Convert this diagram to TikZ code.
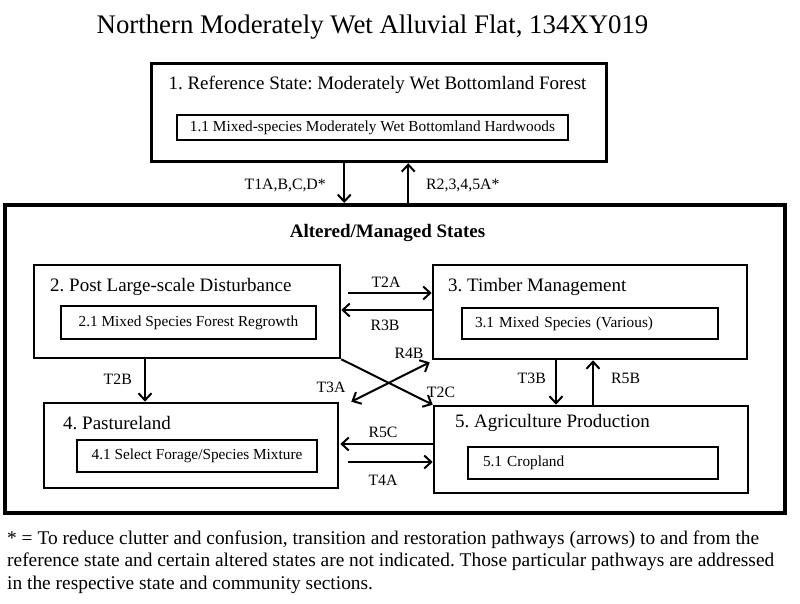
\documentclass[tikz,border=0pt]{standalone}
\usepackage{fontspec}
\setmainfont{Liberation Serif}
\usetikzlibrary{arrows.meta}
\frenchspacing
\tikzset{
  statebox/.style={draw, line width=2.6pt, inner sep=0pt},
  innerbox/.style={draw, line width=2pt, inner sep=0pt, font=\fontsize{15.3}{18}\selectfont},
  sttitle/.style={inner sep=0pt, font=\fontsize{19}{22}\selectfont},
  lbl/.style={inner sep=0pt, font=\fontsize{15.8}{18}\selectfont},
  arr/.style={line width=2pt, -{Straight Barb[length=7pt,width=13pt,line width=2pt]}},
  darr/.style={line width=2pt, {Straight Barb[length=7pt,width=13pt,line width=2pt]}-{Straight Barb[length=7pt,width=13pt,line width=2pt]}}
}
\begin{document}
\begin{tikzpicture}[x=1pt,y=-1pt]
\useasboundingbox[fill=white] (0,0) rectangle (800,604);

% title
\node[inner sep=0pt, font=\fontsize{26.8}{30}\selectfont] (title) at (372.5,27) {Northern Moderately Wet Alluvial Flat, 134XY019};

% reference state
\node[draw, line width=3pt, inner sep=0pt, minimum width=455.5pt, minimum height=98.4pt] (b1) at (378.75,112.5) {};
\node[sttitle] (b1t) at (377.5,85) {1. Reference State: Moderately Wet Bottomland Forest};
\node[innerbox, minimum width=391pt, minimum height=25pt] (b11) at (372.5,127.5) {1.1 Mixed-species Moderately Wet Bottomland Hardwoods};

% altered/managed big box
\node[draw, line width=4pt, inner sep=0pt, minimum width=780pt, minimum height=307.5pt] (big) at (395,358.75) {};
\node[inner sep=0pt, font=\fontsize{19}{22}\selectfont\bfseries] (bigt) at (387.5,233) {Altered/Managed States};

% state boxes
\node[statebox, minimum width=306pt, minimum height=93pt] (b2) at (187,311.5) {};
\node[statebox, minimum width=314pt, minimum height=94pt] (b3) at (590,312) {};
\node[statebox, minimum width=294pt, minimum height=85pt] (b4) at (191,445.5) {};
\node[statebox, minimum width=314pt, minimum height=87pt] (b5) at (591,449.5) {};

\node[sttitle, anchor=west] (b2t) at (50,287) {2. Post Large-scale Disturbance};
\node[sttitle, anchor=west] (b3t) at (448,287) {3. Timber Management};
\node[sttitle, anchor=west] (b4t) at (63,423) {4. Pastureland};
\node[sttitle, anchor=west] (b5t) at (455,423) {5. Agriculture Production};

\node[innerbox, minimum width=255pt, minimum height=33pt] (b21) at (188.5,322.5) {2.1 Mixed Species Forest Regrowth};
\node[innerbox, minimum height=31pt, inner xsep=13pt, text width=230pt, align=left] (b31) at (590,323.5) {3.1 Mixed Species (Various)};
\node[innerbox, minimum width=240pt, minimum height=32pt] (b41) at (197,456) {4.1 Select Forage/Species Mixture};
\node[innerbox, minimum height=32pt, inner xsep=15pt, text width=220pt, align=left] (b51) at (593,463) {5.1 Cropland};

% reference <-> altered
\draw[arr] ([xshift=-34.5pt]b1.south) -- ([xshift=-34.5pt]b1.south |- big.north);
\draw[arr] ([xshift=29.5pt]b1.south |- big.north) -- ([xshift=29.5pt]b1.south);
\node[lbl, anchor=east] (l1) at (326,185) {T1A,B,C,D*};
\node[lbl, anchor=west] (l2) at (426,185) {R2,3,4,5A*};

% horizontal arrows
\draw[arr] ([xshift=7pt,yshift=18.5pt]b2.east) -- ([yshift=18.5pt]b2.east -| b3.west);
\draw[arr] ([yshift=1.5pt]b2.east -| b3.west) -- ([yshift=1.5pt]b2.east);
\draw[arr] ([yshift=1.5pt]b4.east -| b5.west) -- ([xshift=1pt,yshift=1.5pt]b4.east);
\draw[arr] ([xshift=9pt,yshift=-16.5pt]b4.east) -- ([yshift=-16.5pt]b4.east -| b5.west);
\node[lbl] (lt2a) at (386,282) {T2A};
\node[lbl] (lr3b) at (385,325) {R3B};
\node[lbl] (lr5c) at (383,432) {R5C};
\node[lbl] (lt4a) at (383,480) {T4A};

% vertical arrows
\draw[arr] ([xshift=-42pt]b2.south) -- ([xshift=-42pt]b2.south |- b4.north);
\draw[arr] ([xshift=-34pt]b3.south) -- ([xshift=-34pt]b3.south |- b5.north);
\draw[arr] ([xshift=3pt]b3.south |- b5.north) -- ([xshift=3pt]b3.south);
\node[lbl, anchor=east] (lt2b) at (132,379) {T2B};
\node[lbl, anchor=east] (lt3b) at (546,378) {T3B};
\node[lbl, anchor=west] (lr5b) at (611,378) {R5B};

% crossing arrows
\draw[arr] (b2.south east) -- (b5.north west);
\draw[darr] ([xshift=12pt]b4.north east) -- ([xshift=-2pt,yshift=-2pt]b3.south west);
\node[lbl] (lr4b) at (409,353) {R4B};
\node[lbl] (lt3a) at (331,387) {T3A};
\node[lbl] (lt2c) at (441,392) {T2C};

% footnote
\node[inner sep=0pt, anchor=north west, align=left, font=\fontsize{19.4}{22.5}\selectfont] (foot) at (7,530.5) {* = To reduce clutter and confusion, transition and restoration pathways (arrows) to and from the\\reference state and certain altered states are not indicated. Those particular pathways are addressed\\in the respective state and community sections.};
\end{tikzpicture}
\end{document}
